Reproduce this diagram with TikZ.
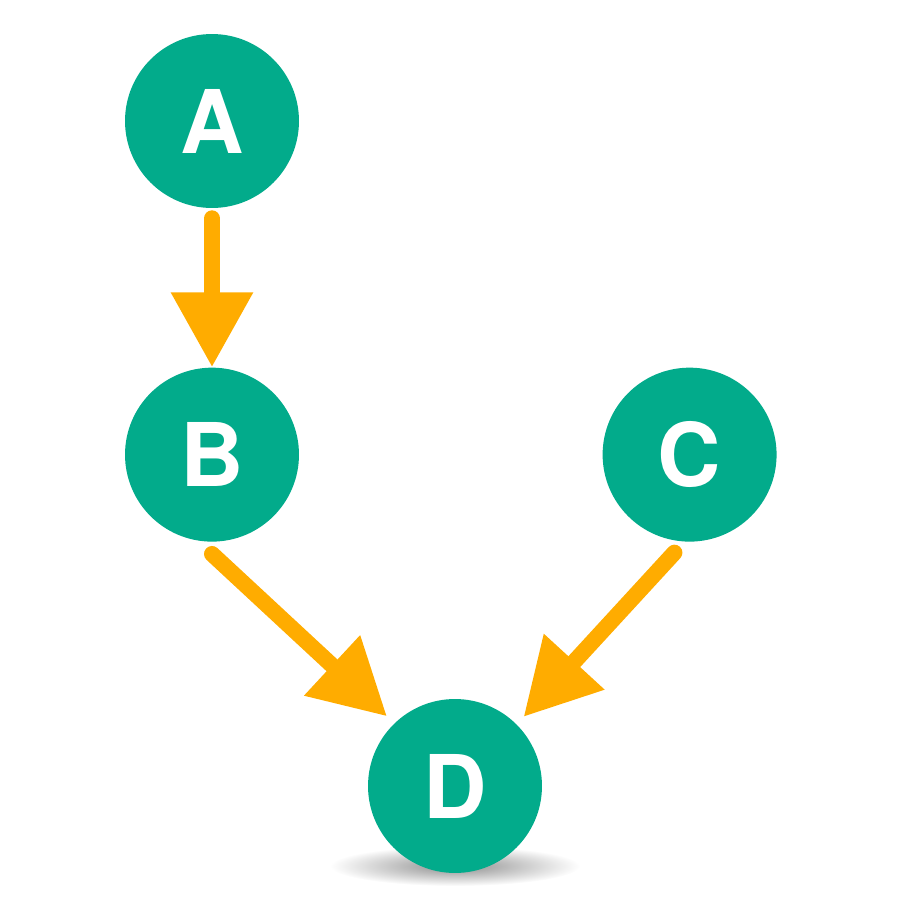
\documentclass[tikz,border=0pt]{standalone}
\usepackage{fontspec}
\setmainfont{TeX Gyre Heros}
\usepackage{tikz}
\usetikzlibrary{positioning,arrows.meta}

\definecolor{nodeteal}{RGB}{2,171,139}
\definecolor{arroworange}{RGB}{255,172,0}

\tikzset{
  var/.style={circle, fill=nodeteal, minimum size=3.48cm, inner sep=0pt,
    text=white, font=\fontsize{50}{54}\selectfont\bfseries},
  link/.style={draw=arroworange, line width=0.32cm, line cap=round,
    -{Triangle[length=1.5cm, width=1.56cm]}},
}

\begin{document}
\begin{tikzpicture}[x=0.02cm, y=-0.02cm]
			\useasboundingbox (0,0) rectangle (910,910);
			
			% shadow under D
			\shade[inner color=black!45, outer color=white] (455,866) ellipse (125 and 20);
			
			\node[var] (A) at (212,121) {A};
			\node[var, below=3.18cm of A] (B) {B};
			\node[var, right=6.06cm of B] (C) {C};
			\node[var] (D) at (455,786) {D};
			
			\draw[link] ([yshift=-0.2cm]A.south) -- (B.north);
			\draw[link, shorten >=0.2cm] ([yshift=-0.24cm]B.south) -- (D.134);
			\draw[link, shorten >=0.2cm] ([yshift=-0.24cm]C.260) -- (D.45);
			
		\end{tikzpicture}
\end{document}
